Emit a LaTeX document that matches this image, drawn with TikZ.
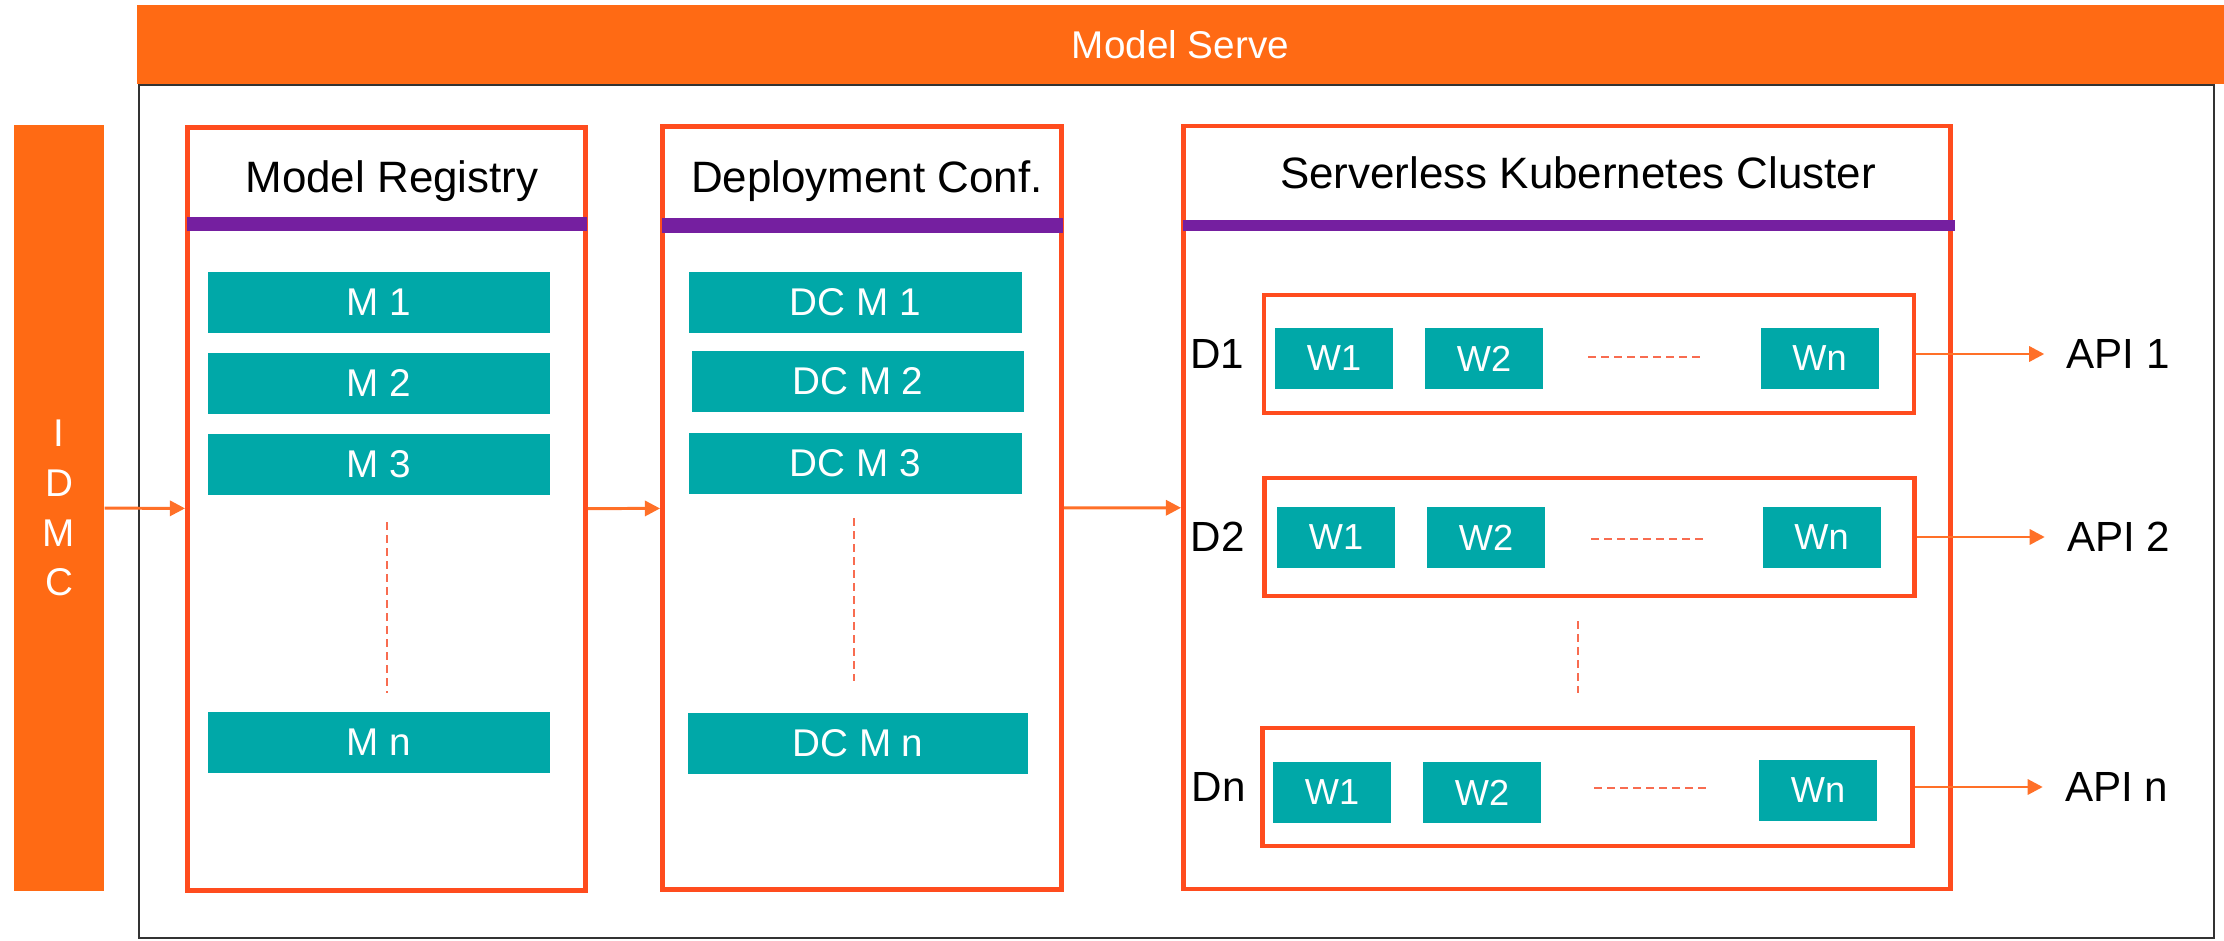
\documentclass[tikz,border=0pt]{standalone}
\usepackage{fontspec}
\setmainfont{Liberation Sans}
\usetikzlibrary{arrows.meta,positioning}
\definecolor{serveorange}{RGB}{255,106,20}
\definecolor{boxred}{RGB}{255,76,30}
\definecolor{barpurple}{RGB}{117,31,160}
\definecolor{itemteal}{RGB}{0,168,168}
\definecolor{flowline}{RGB}{255,112,40}
\definecolor{dotline}{RGB}{248,108,80}

\begin{document}
\begin{tikzpicture}[>={Triangle[length=4.3pt,width=4.3pt]},font=\fontsize{11}{13}\selectfont,
  servebar/.style={fill=serveorange,text=white,inner sep=0pt},
  panel/.style={draw=boxred,line width=1.4pt,minimum height=7.63cm,inner sep=0pt},
  heading/.style={font=\fontsize{12.5}{15}\selectfont,anchor=base},
  stripe/.style={fill=barpurple},
  itembox/.style={fill=itemteal,text=white,minimum height=0.61cm,inner sep=0pt},
  workerbox/.style={itembox,minimum width=1.18cm,font=\fontsize{10.3}{12}\selectfont},
  depbox/.style={draw=boxred,line width=1.3pt,minimum width=6.5cm,minimum height=1.18cm,inner sep=0pt},
  sidelabel/.style={font=\fontsize{12}{14}\selectfont},
  flow/.style={->,flowline,line width=0.85pt},
  ellipsis/.style={dotline,line width=0.6pt,dash pattern=on 2.3pt off 1.4pt}]
\useasboundingbox (0,0) rectangle (22.24,9.4);
% frame and side bars
\draw[black!80,line width=0.6pt] (1.39,0.02) rectangle (22.14,8.55);
\node[servebar,minimum width=20.87cm,minimum height=0.79cm,font=\fontsize{11}{13}\selectfont] (serve) at (11.805,8.955) {Model Serve};
\node[servebar,minimum width=0.9cm,minimum height=7.66cm,align=center,font=\fontsize{11}{14.2}\selectfont] (idmc) at (0.59,4.32) {I\\D\\M\\C};
% the three panels
\node[panel,minimum width=3.98cm] (reg) at (3.865,4.31) {};
\node[panel,minimum width=3.99cm] (dep) at (8.62,4.32) {};
\node[panel,minimum width=7.67cm] (ksc) at (15.67,4.325) {};
\node[heading] (regt) at (3.92,7.48) {Model Registry};
\node[heading] (dept) at (8.67,7.48) {Deployment Conf.};
\node[heading] (kscht) at (15.78,7.52) {Serverless Kubernetes Cluster};
\fill[stripe] (1.87,7.09) rectangle (5.87,7.23);
\fill[stripe] (6.62,7.07) rectangle (10.63,7.22);
\fill[stripe] (11.83,7.09) rectangle (19.55,7.20);
% model registry
\node[itembox,minimum width=3.42cm] (m1) at (3.79,6.375) {M 1};
\node[itembox,minimum width=3.42cm] (m2) at (3.79,5.565) {M 2};
\node[itembox,minimum width=3.42cm] (m3) at (3.79,4.755) {M 3};
\node[itembox,minimum width=3.42cm] (mn) at (3.79,1.975) {M n};
\draw[ellipsis] (3.87,4.18) -- (3.87,2.47);
% deployment configs
\node[itembox,minimum width=3.33cm] (dc1) at (8.555,6.38) {DC M 1};
\node[itembox,minimum width=3.32cm] (dc2) at (8.58,5.585) {DC M 2};
\node[itembox,minimum width=3.33cm] (dc3) at (8.555,4.77) {DC M 3};
\node[itembox,minimum width=3.4cm] (dcn) at (8.58,1.965) {DC M n};
\draw[ellipsis] (8.54,4.22) -- (8.54,2.59);
% deployments
\node[depbox] (d1) at (15.89,5.86) {};
\node[depbox] (d2) at (15.895,4.03) {};
\node[depbox] (dn) at (15.875,1.53) {};
\node[workerbox] (w1a) at (13.34,5.815) {W1};
\node[workerbox] (w2a) at (14.84,5.815) {W2};
\node[workerbox] (wna) at (18.195,5.815) {Wn};
\node[workerbox] (w1b) at (13.36,4.025) {W1};
\node[workerbox] (w2b) at (14.86,4.025) {W2};
\node[workerbox] (wnb) at (18.215,4.025) {Wn};
\node[workerbox] (w1n) at (13.32,1.475) {W1};
\node[workerbox] (w2n) at (14.82,1.475) {W2};
\node[workerbox] (wnn) at (18.18,1.495) {Wn};
\draw[ellipsis] (15.88,5.83) -- (17.01,5.83);
\draw[ellipsis] (15.91,4.01) -- (17.04,4.01);
\draw[ellipsis] (15.94,1.52) -- (17.07,1.52);
\draw[ellipsis] (15.78,3.19) -- (15.78,2.47);
\node[sidelabel,left=0.05cm of d1] (d1l) {D1};
\node[sidelabel,left=0.05cm of d2] (d2l) {D2};
\node[sidelabel,left=0.02cm of dn] (dnl) {Dn};
\node[sidelabel,right=1.38cm of d1] (api1) {API 1};
\node[sidelabel,right=1.38cm of d2] (api2) {API 2};
\node[sidelabel,right=1.38cm of dn] (apin) {API n};
% flow
\draw[flow] (idmc) -- (reg);
\draw[flow] (reg) -- (dep);
\draw[flow] (dep) -- (ksc);
\draw[flow,shorten >=0.1cm] (d1) -- (api1);
\draw[flow,shorten >=0.1cm] (d2) -- (api2);
\draw[flow,shorten >=0.1cm] (dn) -- (apin);
\end{tikzpicture}
\end{document}
